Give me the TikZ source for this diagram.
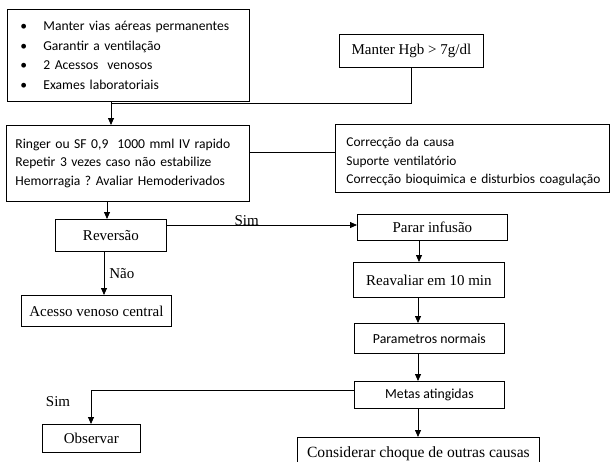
\documentclass[tikz,border=0pt]{standalone}
\usepackage{fontspec}
\setmainfont{Liberation Serif}
\newfontfamily\calfont{Carlito}
\usetikzlibrary{arrows.meta,calc}
\frenchspacing
\begin{document}
\begin{tikzpicture}[x=1pt,y=-1pt,
  box/.style={draw, line width=0.8pt, inner sep=0pt, anchor=north west},
  serif/.style={font=\fontsize{15}{18}\selectfont},
  sans/.style={font=\calfont\fontsize{13.8}{16.5}\selectfont},
  sansml/.style={font=\calfont\fontsize{13.6}{18.4}\selectfont, align=left},
  conn/.style={line width=0.8pt},
  arr/.style={conn, -{Triangle[length=7pt,width=6pt]}},
  lbl/.style={font=\fontsize{15}{18}\selectfont, inner sep=0pt}]
\useasboundingbox (0,0) rectangle (610,461);
\clip (0,0) rectangle (610,461);

% boxes
\node[box, minimum width=242pt, minimum height=92pt, text width=216pt, align=left,
  font=\calfont\fontsize{13.6}{19.7}\selectfont] (b1) at (7,9)
  {\makebox[23pt][l]{\textbullet}Manter vias aéreas permanentes\\
   \makebox[23pt][l]{\textbullet}Garantir a ventilação\\
   \makebox[23pt][l]{\textbullet}2 Acessos\ \ venosos\\
   \makebox[23pt][l]{\textbullet}Exames laboratoriais};
\node[box, serif, minimum width=144pt, minimum height=33pt] (hgb) at (339,34) {Manter Hgb > 7g/dl};
\node[box, sansml, minimum width=243pt, minimum height=76pt, text width=225pt] (ring) at (6,125)
  {\mbox{Ringer ou SF 0,9\ \ 1000 mml IV rapido}\\\mbox{Repetir 3 vezes caso não estabilize}\\\mbox{Hemorragia ? Avaliar Hemoderivados}};
\node[box, sansml, font=\calfont\fontsize{13.4}{18.4}\selectfont, minimum width=274pt, minimum height=68pt, text width=252pt] (corr) at (335,124)
  {\mbox{\rule{0pt}{16pt}Correcção da causa}\\\mbox{Suporte ventilatório}\\\mbox{Correcção bioquimica e disturbios coagulação}};
\node[box, serif, minimum width=111pt, minimum height=32pt] (rev) at (55,219) {Reversão};
\node[box, serif, minimum width=150pt, minimum height=31pt] (acc) at (21,295) {Acesso venoso central};
\node[box, serif, minimum width=150pt, minimum height=26pt] (parar) at (357,214) {Parar infusão};
\node[box, serif, minimum width=151pt, minimum height=35pt] (reav) at (353,262) {Reavaliar em 10 min};
\node[box, sans, minimum width=150pt, minimum height=30pt] (param) at (354,323) {Parametros normais};
\node[box, sans, minimum width=150pt, minimum height=27pt] (metas) at (354,381) {Metas atingidas};
\node[box, serif, minimum width=98pt, minimum height=28pt] (obs) at (42,424) {Observar};
\node[box, font=\fontsize{15.6}{18}\selectfont, minimum width=242pt, minimum height=32pt] (cons) at (297,437) {Considerar choque de outras causas};

% connectors
\coordinate (j1) at (111,103);
\draw[conn] (hgb.south) |- (j1);
\draw[arr] (j1 |- b1.south) -- (j1 |- ring.north);
\coordinate (j2) at (0,152);
\draw[conn] (j2 -| ring.east) -- (j2 -| corr.west);
\coordinate (j3) at (107,0);
\draw[arr] (j3 |- ring.south) -- (j3 |- rev.north);
\coordinate (j4) at (0,225);
\draw[arr] (j4 -| rev.east) -- (j4 -| parar.west)
  node[lbl, pos=0.42, anchor=base] {Sim};
\coordinate (j5) at (104,0);
\draw[arr] (j5 |- rev.south) -- (j5 |- acc.north)
  node[lbl, midway, right=5pt] {Não};
\coordinate (j6) at (419,0);
\draw[arr] (j6 |- parar.south) -- (j6 |- reav.north);
\coordinate (j7) at (418,0);
\draw[arr] (j7 |- reav.south) -- (j7 |- param.north);
\draw[arr] (j7 |- param.south) -- (j7 |- metas.north);
\draw[arr] (j7 |- metas.south) -- (j7 |- cons.north);
\coordinate (j8) at (91,390);
\draw[arr] (j8 -| metas.west) -- (j8) -- (j8 |- obs.north);
\node[lbl, anchor=base] (sim2) at (58,406) {Sim};
\end{tikzpicture}
\end{document}
